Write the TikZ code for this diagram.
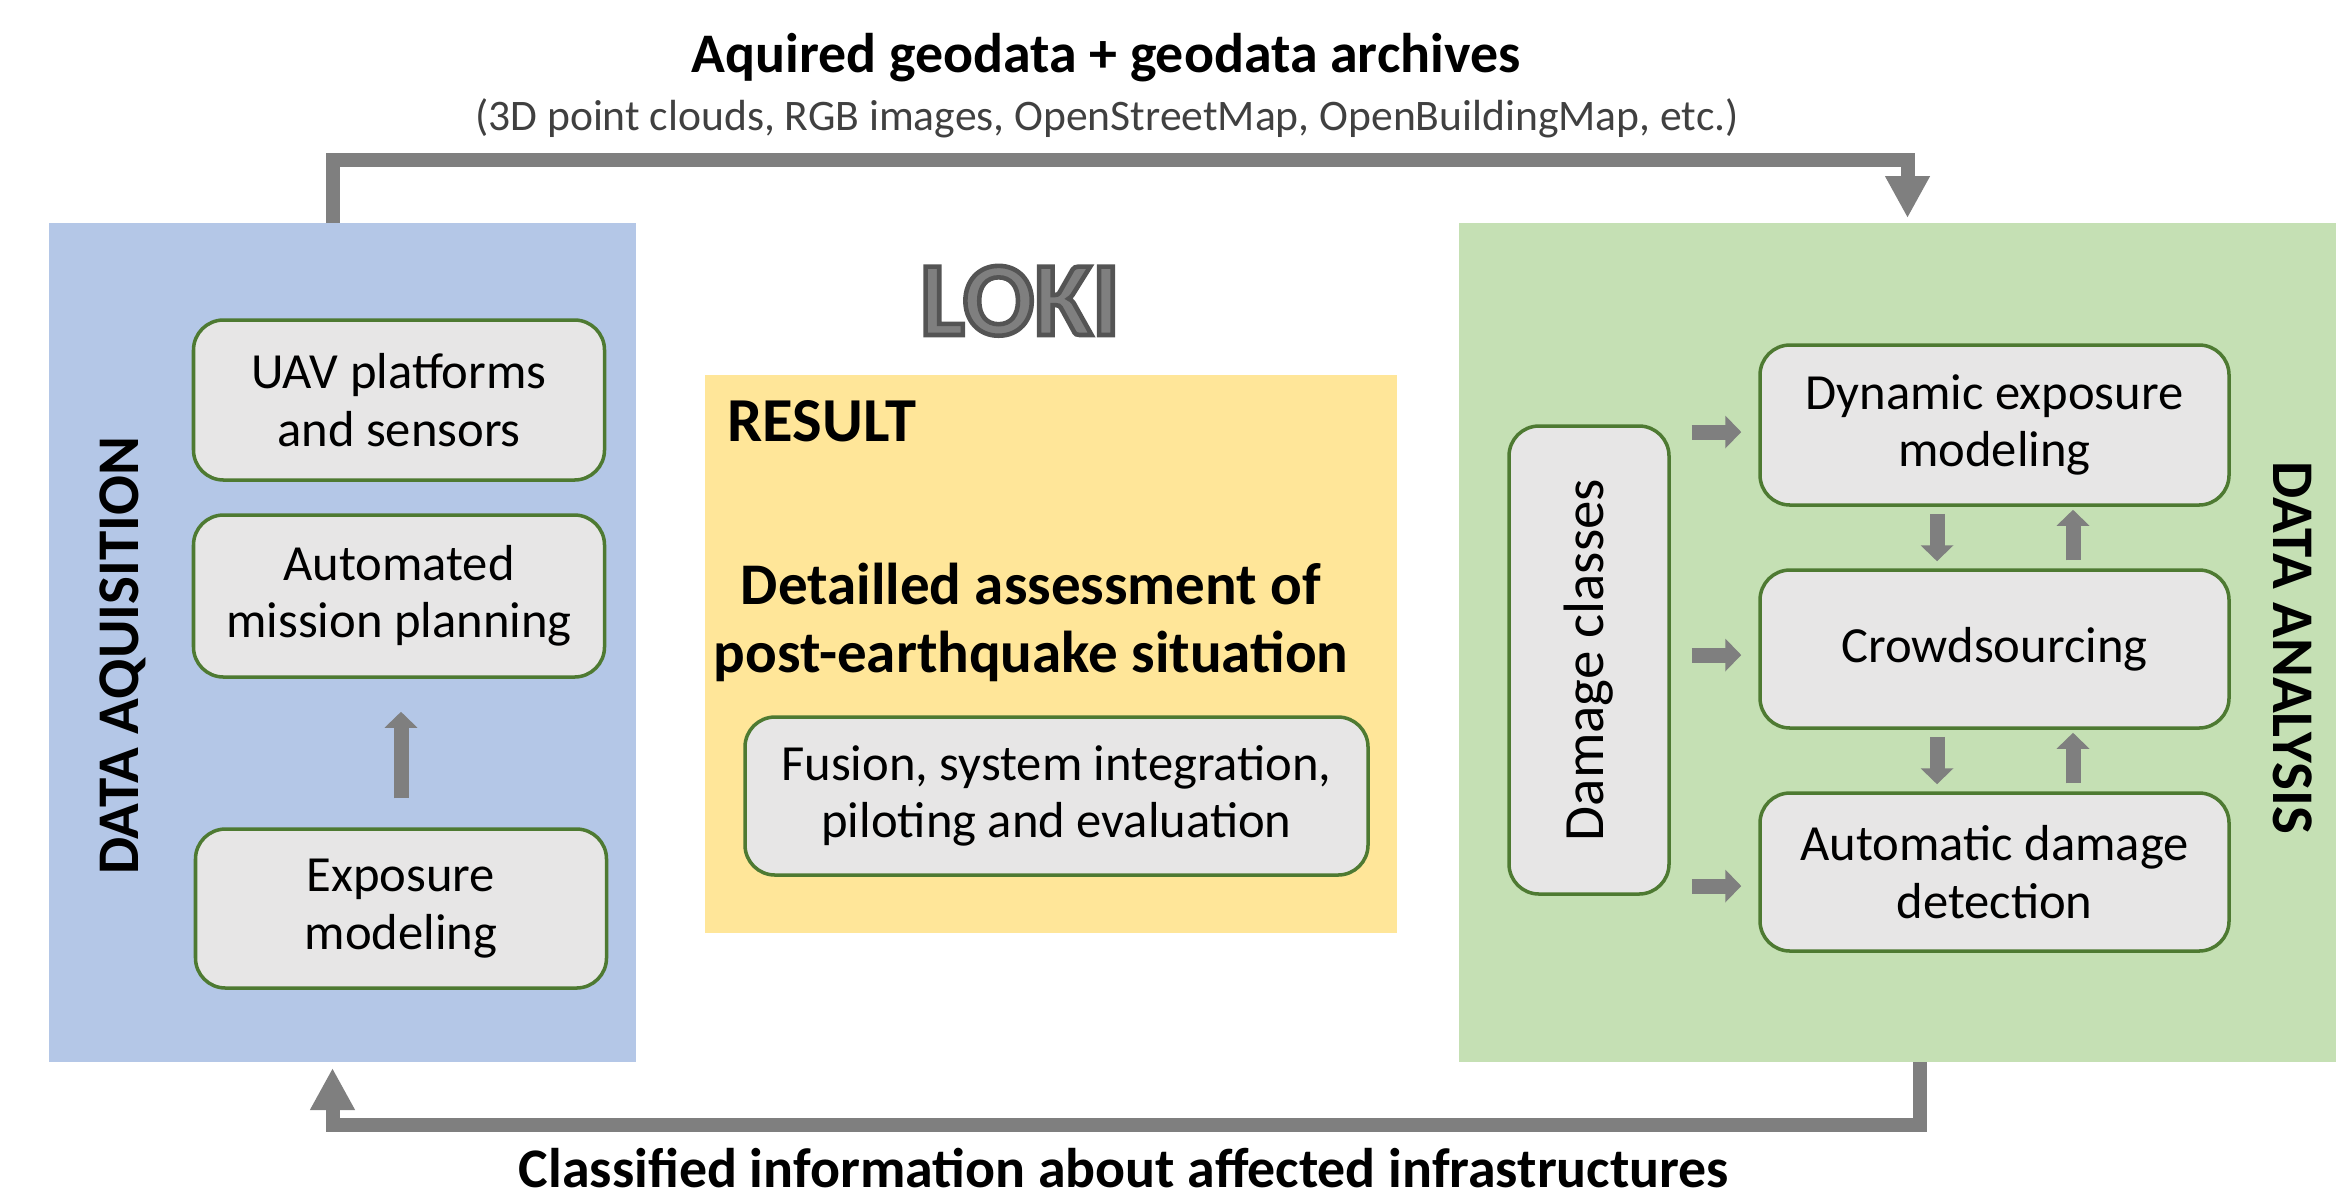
\documentclass[tikz,border=0pt]{standalone}
\usepackage{fontspec}
\setmainfont{Carlito}
\usetikzlibrary{arrows.meta,calc}
\definecolor{acqblue}{HTML}{B4C7E7}
\definecolor{anagreen}{HTML}{C5E0B4}
\definecolor{resyellow}{HTML}{FFE699}
\definecolor{boxgray}{HTML}{E7E6E6}
\definecolor{boxline}{HTML}{4E7A32}
\definecolor{arrowgray}{HTML}{7F7F7F}
\tikzset{
  panel/.style={inner sep=0pt, outer sep=0pt},
  procbox/.style={draw=boxline, fill=boxgray, line width=1pt, rounded corners=0.3cm, align=center, inner sep=0pt, font=\fontsize{14.4}{16.3}\selectfont},
  sidelabel/.style={font=\fontsize{16.8}{20}\selectfont\bfseries},
  flowarrow/.style={draw=arrowgray, line width=0.14cm, line join=miter, -{Triangle[width=0.42cm,length=0.42cm]}},
  blockarrow/.style={draw=arrowgray, line width=0.15cm, -{Triangle[width=0.32cm,length=0.16cm]}}
}
\newcommand{\outlinetext}[1]{\special{pdf:literal direct 2 Tr 1.3 w 0.33 0.33 0.33 RG}#1\special{pdf:literal direct 0 Tr}}

\begin{document}
\begin{tikzpicture}
  \useasboundingbox (0,0) rectangle (23.36,-11.94);
  \node[panel, fill=acqblue, minimum width=5.87cm, minimum height=8.39cm] (acq) at (3.425,-6.425) {};
  \node[panel, fill=anagreen, minimum width=8.77cm, minimum height=8.39cm] (ana) at (18.975,-6.425) {};
  \node[panel, fill=resyellow, minimum width=6.92cm, minimum height=5.58cm] (res) at (10.51,-6.54) {};

  \node[anchor=base, font=\fontsize{15.9}{19}\selectfont\bfseries] (geotitle) at (11.06,-0.72) {Aquired geodata + geodata archives};
  \node[anchor=base, font=\fontsize{12.4}{15}\selectfont, text=black!75] (geosub) at (11.07,-1.30) {(3D point clouds, RGB images, OpenStreetMap, OpenBuildingMap, etc.)};
  \node[anchor=base, font=\fontsize{15.9}{19}\selectfont\bfseries] (classinfo) at (11.24,-11.87) {Classified information about affected infrastructures};

  \draw[flowarrow] ([xshift=-0.1cm]acq.north) -- ++(0,0.63) -| ([xshift=0.1cm,yshift=0.05cm]ana.north);
  \draw[flowarrow] ([xshift=0.22cm]ana.south) -- ++(0,-0.63) -| ([xshift=-0.1cm,yshift=-0.06cm]acq.south);

  \node[sidelabel, rotate=90] (acqlabel) at (1.23,-6.56) {DATA AQUISITION};
  \node[procbox, minimum width=4.11cm, minimum height=1.60cm] (uav) at (3.99,-4.00) {UAV platforms\\and sensors};
  \node[procbox, minimum width=4.11cm, minimum height=1.62cm] (plan) at (3.99,-5.96) {Automated\\mission planning};
  \node[procbox, minimum width=4.11cm, minimum height=1.59cm] (expo) at (4.01,-9.085) {Exposure\\modeling};
  \draw[blockarrow] ([yshift=0.29cm]expo.north) -- ($(expo.north |- plan.south)+(0,-0.33)$);

  \node[anchor=base, text=arrowgray, font=\fontsize{30}{36}\selectfont\bfseries] (loki) at (10.20,-3.35) {\outlinetext{LOKI}};

  \node[anchor=base west, inner sep=0pt, font=\fontsize{17.8}{21}\selectfont\bfseries] (reslabel) at (7.27,-4.41) {RESULT};
  \node[align=center, font=\fontsize{16.8}{19.3}\selectfont\bfseries] (assess) at (10.31,-6.22) {Detailled assessment of\\post-earthquake situation};
  \node[procbox, minimum width=6.23cm, minimum height=1.58cm] (fusion) at (10.565,-7.96) {Fusion, system integration,\\piloting and evaluation};

  \node[procbox, minimum width=1.60cm, minimum height=4.68cm, font=\fontsize{16.2}{19}\selectfont] (cls) at (15.89,-6.60) {\rotatebox{90}{Damage classes}};
  \node[procbox, minimum width=4.69cm, minimum height=1.60cm] (dyn) at (19.945,-4.25) {Dynamic exposure\\modeling};
  \node[procbox, minimum width=4.69cm, minimum height=1.58cm] (crowd) at (19.945,-6.49) {Crowdsourcing};
  \node[procbox, minimum width=4.69cm, minimum height=1.58cm] (autodet) at (19.945,-8.72) {Automatic damage\\detection};
  \node[sidelabel, rotate=-90] (analabel) at (22.93,-6.48) {DATA ANALYSIS};

  \foreach \b/\s in {dyn/0.07,crowd/0.06,autodet/0.14}
    \draw[blockarrow] ($(cls.east |- \b.west)+(0.21,-\s)$) -- ($(\b.west)+(-0.17,-\s)$);
  \foreach \u/\l in {dyn/crowd,crowd/autodet} {
    \draw[blockarrow] ($(\u.south)+(-0.575,-0.07)$) -- ($(\l.north)+(-0.575,0.07)$);
    \draw[blockarrow] ($(\l.north)+(0.785,0.08)$) -- ($(\u.south)+(0.785,-0.03)$);
  }
\end{tikzpicture}
\end{document}
